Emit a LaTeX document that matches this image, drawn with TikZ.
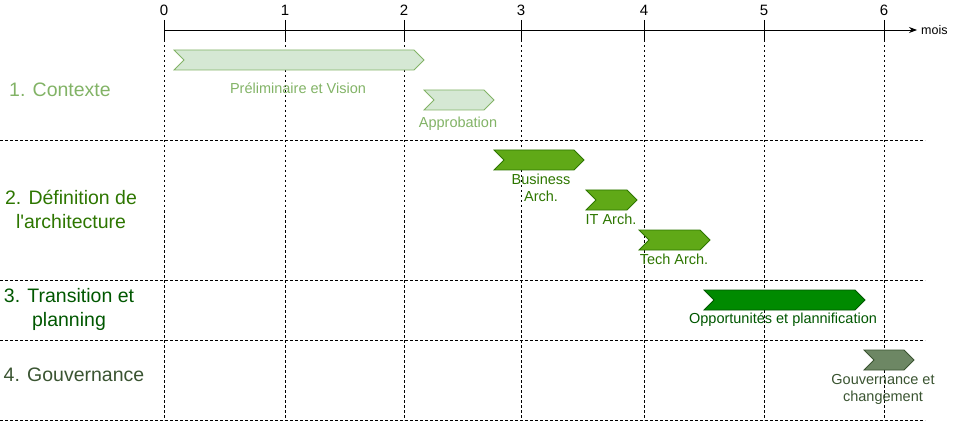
\documentclass[tikz,border=0pt]{standalone}
\usepackage{fontspec}
\setmainfont{Liberation Sans}
\usetikzlibrary{positioning, shapes.symbols, arrows.meta}

\definecolor{ctxfill}{HTML}{D5E8D4}
\definecolor{ctxline}{HTML}{82B366}
\definecolor{deffill}{HTML}{60A917}
\definecolor{defline}{HTML}{2D7600}
\definecolor{trafill}{HTML}{008A00}
\definecolor{traline}{HTML}{005700}
\definecolor{govfill}{HTML}{6D8764}
\definecolor{govline}{HTML}{3A5431}

\tikzset{
    grid line/.style={dash pattern=on 2.5pt off 2.5pt, line width=0.7pt},
    chevron/.style={signal, signal from=west, signal to=east, signal pointer angle=90,
        inner sep=0pt, minimum height=20pt, line width=0.8pt, draw=#1line, fill=#1fill},
    tasklabel/.style={font=\fontsize{14.5}{17}\selectfont, align=center, text=#1line, inner sep=0pt},
    phaselabel/.style={font=\fontsize{19.5}{24}\selectfont, align=center, text=#1line, inner sep=0pt},
    month/.style={font=\fontsize{15}{17}\selectfont}
}

\begin{document}
\begin{tikzpicture}[x=1pt, y=-1pt]
            \useasboundingbox (0, 0) rectangle (955, 422);

            % axe du temps
            \coordinate (axstart) at (164, 30);
            \coordinate (axend) at (917, 30);
            \draw[line width=0.8pt, -{Stealth[length=8pt, width=6pt]}] (axstart) -- (axend);
            \node[anchor=west, font=\fontsize{12.5}{14}\selectfont, inner sep=1pt] (mois) at (920, 30) {mois};
            \foreach \m/\x in {0/164, 1/285, 2/404, 3/521, 4/644, 5/764, 6/884} {
                \coordinate (top\m) at (\x, 20);
                \coordinate (mid\m) at (\x, 40);
                \coordinate (bot\m) at (\x, 420);
                \draw[line width=0.8pt] (top\m) -- (mid\m);
                \draw[grid line] (mid\m) -- (bot\m);
                \node[month] (lbl\m) at (\x, 10) {\m};
            }

            % separations des phases
            \foreach \y in {140, 280, 340, 420} {
                \coordinate (sepl\y) at (0, \y);
                \coordinate (sepr\y) at (925, \y);
                \draw[grid line] (sepl\y) -- (sepr\y);
            }

            % phases
            \node[phaselabel=ctx] (contexte) at (60, 90) {1. Contexte};
            \node[phaselabel=def] (definition) at (71, 209) {2. Définition de\\l\textquotesingle architecture};
            \node[phaselabel=tra] (transition) at (69, 309) {3. Transition et\\planning};
            \node[phaselabel=gov] (gouvernance) at (74, 375) {4. Gouvernance};

            % etapes
            \node[chevron=ctx, minimum width=250pt] (prelim) at (299, 60) {};
            \node[chevron=ctx, minimum width=70pt] (approb) at (459, 100) {};
            \node[chevron=def, minimum width=90pt] (business) at (539, 160) {};
            \node[chevron=def, minimum width=51pt] (itarch) at (611.5, 200) {};
            \node[chevron=def, minimum width=71pt] (techarch) at (674.5, 240) {};
            \node[chevron=tra, minimum width=161pt] (opport) at (784.5, 300) {};
            \node[chevron=gov, minimum width=50pt] (gouv) at (889, 360) {};

            \node[tasklabel=ctx] (prelimtxt) at (298, 88) {Préliminaire et Vision};
            \node[tasklabel=ctx] (approbtxt) at (458, 124) {Approbation};
            \node[tasklabel=def] (businesstxt) at (541, 187.5) {Business\\Arch.};
            \node[tasklabel=def] (itarchtxt) at (611, 219) {IT Arch.};
            \node[tasklabel=def] (techarchtxt) at (674, 259) {Tech Arch.};
            \node[tasklabel=tra] (opporttxt) at (783, 320) {Opportunités et plannification};
            \node[tasklabel=gov] (gouvtxt) at (883, 389.5) {Gouvernance et\\changement};
        \end{tikzpicture}
\end{document}
